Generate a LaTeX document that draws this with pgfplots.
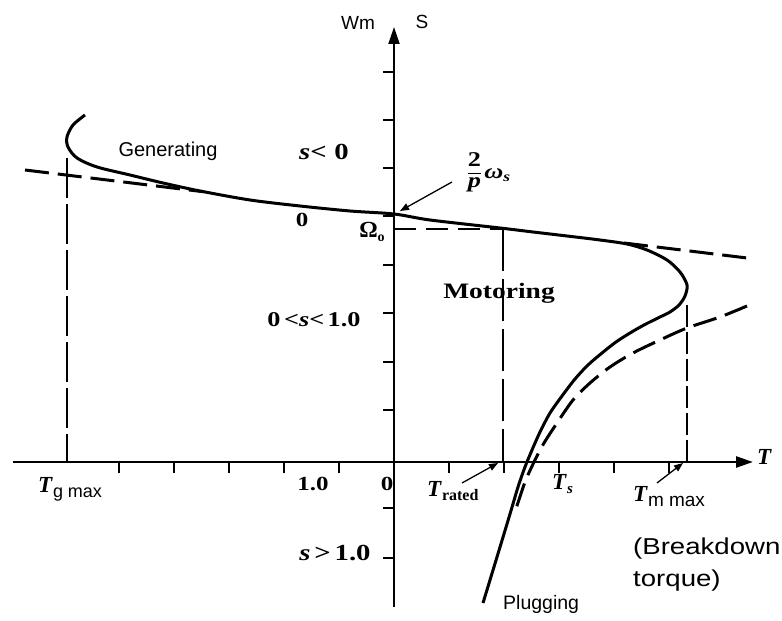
\documentclass[border=0pt]{standalone}
\usepackage{pgfplots}
\pgfplotsset{compat=1.18}
\usepackage{fontspec}
\setmainfont{Liberation Serif}
\setsansfont{Liberation Sans}
\newfontfamily\widesans[FakeStretch=1.2]{Liberation Sans}
\newfontfamily\wideserif[FakeStretch=1.25]{Liberation Serif}
\usetikzlibrary{arrows.meta}

% torque (x) and speed (y) of the induction machine, in drawing units
\pgfplotstableread{
x y
-309 347
-321 337
-327 325
-326 315
-317 304
-297 295
-264 287
-231 279
-194 271
-144 262
-94 256
-44 251
0 248
36 242
106 234
139 230
173 226
206 222
233 218
253 212
273 202
286 190
293 177
291 166
285 157
276 150
264 144
250 137
236 129
222 120
208 109
194 97
181 83
168 66
156 49
146 30
138 12
131 -5
124 -25
116 -52
103 -95
89 -141
}\torquespeed

\pgfplotstableread{
x y
353 156
326 145
293 134
266 122
239 109
216 95
196 79
179 62
163 39
150 19
141 2
131 -20
121 -50
}\approxcurve

\newcommand{\sz}[1]{\fontsize{#1bp}{#1bp}\selectfont}
\newcommand{\bT}{\textbf{\textit{T}}}

\begin{document}
\begin{tikzpicture}
\begin{axis}[
  x=1bp, y=1bp,
  axis lines=middle,
  xmin=-381, xmax=359,
  ymin=-145, ymax=435,
  clip=false,
  x axis line style={line width=2.6bp, -{Triangle[length=17bp,width=11bp]}},
  y axis line style={line width=2bp, -{Triangle[length=17bp,width=11bp]}},
  xtick={-275,-220,-165,-110,-55,55,110,165,220,275},
  ytick={-96,-46,52,100,149,197,246,294,342,390},
  xticklabel=\empty, yticklabel=\empty,
  tick align=outside,
  major tick length=11bp,
  tick style={line width=1.5bp, black},
]
% guide lines at the characteristic points
\addplot[line width=1.6bp, dash pattern=on 40bp off 6bp] coordinates {(-327,304) (-327,0)};
\addplot[line width=1.6bp, dash pattern=on 42bp off 8bp] coordinates {(109,233) (109,0)};
\addplot[line width=1.6bp, dash pattern=on 22bp off 5bp] coordinates {(293,157) (293,0)};
\addplot[line width=2bp, dash pattern=on 22bp off 10bp] coordinates {(0,233) (109,233)};

% linearised characteristic near synchronous speed
\addplot[line width=3bp, dash pattern=on 24bp off 9bp] coordinates {(-369,292) (-190,270.2)};
\addplot[line width=3bp, dash pattern=on 24bp off 9bp] coordinates {(230,219) (353,204)};

% approximate characteristic in the motoring/plugging region
\addplot[line width=3bp, dash pattern=on 24bp off 9bp, smooth, tension=0.5] table {\approxcurve};

% full torque-speed characteristic
\addplot[line width=3bp, smooth, tension=0.5] table {\torquespeed};

% pointers
\draw[line width=1.3bp, -{Triangle[length=9bp,width=7bp]}] (axis cs:68,-21) -- (axis cs:104,-1);
\draw[line width=1.3bp, -{Triangle[length=9bp,width=7bp]}] (axis cs:263,-21) -- (axis cs:289,-1);
\draw[line width=1.3bp, -{Triangle[length=9bp,width=7bp]}] (axis cs:58,280) -- (axis cs:6,251);

% labels
\node[font=\sffamily\sz{19}] at (axis cs:-36,439) {Wm};
\node[font=\sffamily\sz{19}] at (axis cs:28,440) {S};
\node[font=\sffamily\sz{20}] at (axis cs:-226,311) {Generating};
\node[font=\wideserif\bfseries\sz{23}] at (axis cs:-70,310) {\textit{s}{<}\,\,0};
\node[font=\wideserif\bfseries\sz{21}, inner sep=0pt] at (axis cs:95,289) {\begin{tabular}{@{}c@{}}2\\[0bp]\hline\textit{p}\end{tabular}\,\textit{ω\raisebox{-3bp}{\sz{14}s}}};
\node[font=\wideserif\bfseries\sz{20}] at (axis cs:-92,242) {0};
\node[font=\bfseries\sz{23}] at (axis cs:-22,230) {Ω\raisebox{-4bp}{\sz{14}o}};
\node[font=\wideserif\bfseries\sz{22}] at (axis cs:105,169) {Motoring};
\node[font=\wideserif\bfseries\sz{21}] at (axis cs:-80,142) {0\,{<}\textit{s}{<}\,1.0};
\node[font=\wideserif\bfseries\sz{20}] at (axis cs:-81,-22) {1.0};
\node[font=\wideserif\bfseries\sz{20}] at (axis cs:-7,-22) {0};
\node[font=\wideserif\bfseries\sz{23}] at (axis cs:-59,-91) {\textit{s}\,{>}\,1.0};
\node[anchor=base west, inner sep=0pt, font=\sz{23}] at (axis cs:-356,-31) {\bT\raisebox{-5bp}{\sffamily\sz{18}g max}};
\node[anchor=base west, inner sep=0pt, font=\sz{23}] at (axis cs:33,-35) {\bT\raisebox{-4bp}{\bfseries\sz{16}rated}};
\node[anchor=base west, inner sep=0pt, font=\sz{23}] at (axis cs:158,-28) {\bT\raisebox{-4bp}{\bfseries\itshape\sz{15}s}};
\node[anchor=base west, inner sep=0pt, font=\sz{23}] at (axis cs:239,-40) {\bT\raisebox{-5bp}{\sffamily\sz{19}m max}};
\node[anchor=base west, inner sep=0pt, font=\widesans\sz{23}] at (axis cs:239,-93) {(Breakdown};
\node[anchor=base west, inner sep=0pt, font=\widesans\sz{23}] at (axis cs:239,-125) {torque)};
\node[anchor=base west, inner sep=0pt, font=\sffamily\sz{19.5}] at (axis cs:109,-148) {Plugging};
\node[anchor=base west, inner sep=0pt, font=\sz{23}] at (axis cs:363,-3) {\bT};

\coordinate (BL) at (axis cs:-394,-159);
\coordinate (TR) at (axis cs:388,462);
\end{axis}
\pgfresetboundingbox
\path (BL) rectangle (TR);
\end{tikzpicture}
\end{document}
